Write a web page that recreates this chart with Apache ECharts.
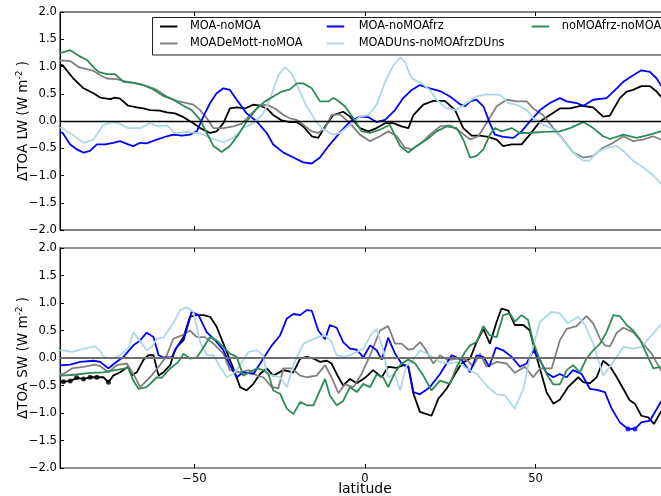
<!DOCTYPE html>
<html><head><meta charset="utf-8">
<script src="https://cdn.jsdelivr.net/npm/echarts@6/dist/echarts.min.js"></script>
<style>html,body{margin:0;padding:0;background:#fff;overflow:hidden}#c{width:661px;height:496px}</style>
</head><body><div id="c"></div>
<script>
// ---------- data (latitude, value) ----------
const names = ['MOA-noMOA','MOADeMott-noMOA','MOA-noMOAfrz','MOADUns-noMOAfrzDUns','noMOAfrz-noMOA'];
const colors = ['#000000','#808080','#0000ff','#add8e6','#2e8b57'];
const xTicks = [-50, 0, 50];
const yTicks = [-2, -1.5, -1, -0.5, 0, 0.5, 1, 1.5, 2];

const lwBlack = [[-89.4,1.04],[-88.6,1.02],[-85.5,0.78],[-82.5,0.60],[-79.6,0.51],[-77.6,0.43],[-74.7,0.40],[-73.3,0.43],[-71.8,0.41],[-69.4,0.28],[-66.9,0.25],[-65,0.23],[-63,0.20],[-60.1,0.19],[-58.1,0.16],[-55.7,0.14],[-53.2,0.07],[-50.3,-0.04],[-48.3,-0.13],[-45.4,-0.22],[-43.5,-0.19],[-41.5,-0.04],[-39.6,0.23],[-37.6,0.25],[-35.2,0.23],[-32.7,0.30],[-30.8,0.28],[-28.8,0.23],[-26.9,0.11],[-24.4,0.01],[-22,-0.02],[-20,-0.02],[-18.1,-0.10],[-15.6,-0.28],[-13.7,-0.31],[-11.7,-0.10],[-9.3,0.11],[-6.4,0.17],[-4.4,0.08],[-1.5,-0.13],[1.0,-0.19],[3.4,-0.13],[5.9,-0.04],[8.3,-0.04],[10.7,-0.10],[12.7,-0.13],[14.2,0.11],[17.1,0.30],[20,0.37],[23.4,0.37],[26.4,0.20],[28.8,-0.13],[31.3,-0.27],[33.7,-0.27],[36.1,-0.29],[38.6,-0.34],[40.5,-0.46],[43,-0.43],[45.9,-0.43],[48.3,-0.25],[51.3,-0.01],[54.2,0.11],[57.1,0.23],[60.1,0.23],[63.5,0.28],[66.9,0.25],[69.8,0.08],[71.8,0.10],[74.7,0.42],[76.7,0.54],[78.6,0.57],[81,0.64],[83.5,0.64],[85.5,0.54],[86.7,0.45],[89.4,0.35]];
const lwGray = [[-89.4,1.11],[-88.6,1.11],[-86.4,1.10],[-84,0.99],[-81.5,0.95],[-79.6,0.92],[-77.6,0.84],[-75.7,0.78],[-72.8,0.77],[-69.8,0.72],[-66.9,0.69],[-64,0.64],[-61,0.57],[-58.1,0.45],[-55.2,0.37],[-52.2,0.33],[-50.3,0.30],[-48.3,0.20],[-46.4,0.05],[-44.4,-0.13],[-41.5,-0.13],[-38.6,-0.10],[-36.1,-0.05],[-33.7,0.11],[-30.8,0.28],[-28.8,0.30],[-26.4,0.23],[-23.9,0.11],[-22,0.05],[-20,0.02],[-18.1,-0.07],[-15.6,-0.19],[-13.7,-0.22],[-11.7,-0.13],[-9.8,0.11],[-7.3,0.12],[-4.4,-0.04],[-1.5,-0.25],[1.5,-0.37],[4.4,-0.28],[6.8,-0.19],[9.3,-0.28],[11.7,-0.49],[13.7,-0.52],[16.6,-0.40],[19,-0.25],[22,-0.10],[24.9,-0.08],[27.8,-0.19],[30.8,-0.34],[33.2,-0.28],[35.6,-0.04],[38.6,0.27],[41.5,0.39],[44.4,0.36],[47.4,0.36],[49.3,0.23],[52.2,0.11],[55.2,-0.13],[58.1,-0.34],[61,-0.58],[64,-0.67],[66.9,-0.64],[69.8,-0.49],[72.8,-0.40],[75.7,-0.28],[78.6,-0.37],[81.5,-0.34],[84.5,-0.28],[86.7,-0.34],[89.4,-0.36]];
const lwBlue = [[-89.4,-0.20],[-88.6,-0.22],[-86.4,-0.43],[-84.5,-0.52],[-82.5,-0.58],[-80.6,-0.55],[-78.6,-0.43],[-76.2,-0.43],[-73.8,-0.40],[-71.8,-0.37],[-69.4,-0.43],[-67.9,-0.46],[-65.9,-0.40],[-64,-0.41],[-61,-0.34],[-58.1,-0.28],[-56.2,-0.25],[-53.7,-0.27],[-51.3,-0.25],[-49.3,-0.19],[-47.4,0.08],[-45.4,0.33],[-43.5,0.51],[-41.5,0.60],[-39.6,0.57],[-37.6,0.39],[-34.7,0.14],[-31.7,-0.01],[-28.8,-0.22],[-26.9,-0.43],[-23.9,-0.58],[-21,-0.67],[-18.1,-0.76],[-15.6,-0.78],[-13.2,-0.67],[-10.7,-0.46],[-7.3,-0.21],[-4.4,-0.01],[-1.5,0.08],[1.0,0.07],[3.4,-0.02],[5.9,0.02],[8.8,0.20],[11.2,0.42],[13.7,0.57],[16.1,0.66],[19,0.60],[22,0.55],[24.9,0.45],[27.8,0.31],[29.3,0.27],[30.8,0.36],[32.7,0.39],[34.7,0.27],[36.6,-0.04],[38.1,-0.25],[40.5,-0.29],[43.5,-0.31],[45.9,-0.19],[48.3,-0.01],[51.3,0.20],[54.2,0.33],[57.1,0.42],[59.1,0.36],[62,0.33],[64,0.28],[66.9,0.39],[70.8,0.42],[73.8,0.60],[75.7,0.72],[78.6,0.84],[81,0.93],[83.5,0.90],[85.5,0.78],[86.7,0.66],[89.4,0.50]];
const lwLight = [[-89.4,-0.12],[-88.6,-0.13],[-85.9,-0.25],[-82.5,-0.40],[-79.6,-0.34],[-76.7,-0.07],[-74.2,-0.02],[-72.3,-0.04],[-69.4,-0.13],[-65.9,-0.13],[-63,-0.04],[-60.5,-0.10],[-58.1,-0.08],[-55.7,-0.22],[-52.2,-0.20],[-48.3,-0.23],[-45.4,-0.31],[-41.5,-0.39],[-38.6,-0.31],[-35.7,-0.13],[-32.7,-0.04],[-29.8,0.14],[-27.8,0.42],[-25.4,0.84],[-23.4,0.99],[-21.5,0.87],[-19.5,0.60],[-17.1,0.27],[-14.6,0.02],[-12.2,-0.16],[-9.3,-0.25],[-7.3,-0.22],[-4.4,-0.07],[-1.5,0.08],[1.0,0.11],[3.4,0.30],[5.9,0.72],[8.3,1.02],[10.3,1.17],[11.7,1.08],[13.7,0.78],[16.6,0.69],[19,0.57],[21,0.39],[23.9,0.23],[26.9,0.20],[29.8,0.33],[32.7,0.45],[35.6,0.49],[39.6,0.48],[42,0.33],[44.4,0.30],[47.4,0.20],[49.3,0.05],[52.2,-0.07],[54.7,-0.13],[58.1,-0.34],[61,-0.58],[64,-0.73],[65.9,-0.72],[67.9,-0.58],[70.8,-0.49],[73.8,-0.46],[75.7,-0.55],[78.6,-0.73],[81.5,-0.85],[84.5,-1.00],[86.7,-1.15],[89.4,-1.25]];
const lwGreen = [[-89.4,1.25],[-88.6,1.26],[-86.4,1.30],[-84,1.20],[-81.5,1.12],[-79.6,0.99],[-78.1,0.90],[-75.7,0.86],[-73.3,0.86],[-70.8,0.72],[-67.9,0.70],[-65,0.66],[-62,0.58],[-59.1,0.46],[-56.2,0.39],[-53.2,0.28],[-50.8,0.20],[-48.3,0.02],[-46.4,-0.22],[-44.4,-0.46],[-42,-0.57],[-39.6,-0.46],[-37.1,-0.25],[-34.7,-0.01],[-31.7,0.23],[-29.3,0.36],[-26.9,0.45],[-24.4,0.54],[-22,0.58],[-20,0.69],[-18.1,0.69],[-15.6,0.60],[-13.2,0.36],[-10.7,0.36],[-9.3,0.42],[-8.3,0.39],[-5.9,0.27],[-3.4,0.05],[-1.0,-0.19],[1.5,-0.22],[4.4,-0.16],[7.3,-0.07],[10.3,-0.46],[12.7,-0.58],[15.1,-0.46],[18.1,-0.34],[21,-0.19],[23.9,-0.10],[26.9,-0.13],[28.8,-0.34],[30.8,-0.67],[32.7,-0.64],[34.7,-0.52],[36.6,-0.25],[38.1,-0.13],[40,-0.19],[43,-0.13],[45.4,-0.22],[48.3,-0.22],[52.2,-0.20],[57.1,-0.19],[60.1,-0.13],[64,-0.02],[66.9,-0.13],[69.8,-0.28],[71.8,-0.33],[75.7,-0.25],[79.6,-0.31],[83.5,-0.25],[86.7,-0.19],[89.4,-0.18]];

const swBlack = [[-89.4,-0.43],[-88.4,-0.43],[-86.4,-0.42],[-84.5,-0.36],[-82.5,-0.38],[-80.6,-0.35],[-78.6,-0.35],[-76.7,-0.35],[-75.2,-0.44],[-73.8,-0.32],[-71.8,-0.26],[-69.4,-0.16],[-68.4,-0.32],[-66.9,-0.26],[-65,-0.04],[-63.5,0.05],[-62,0.05],[-60.5,-0.32],[-59.1,-0.26],[-57.1,-0.13],[-55.7,0.14],[-53.2,0.38],[-51.3,0.75],[-49.3,0.78],[-47.4,0.78],[-45.4,0.75],[-43.5,0.57],[-41.5,0.26],[-38.6,-0.19],[-36.6,-0.53],[-34.7,-0.59],[-32.7,-0.47],[-30.8,-0.29],[-28.8,-0.19],[-26.9,-0.32],[-23.9,-0.22],[-21,-0.26],[-19,-0.01],[-17.1,0.02],[-15.1,-0.01],[-13.2,-0.07],[-11.2,-0.05],[-9.8,-0.10],[-8.3,-0.29],[-6.4,-0.50],[-4.4,-0.38],[-2.4,-0.46],[0,-0.36],[2.4,-0.22],[4.9,-0.35],[6.8,-0.16],[9.3,-0.18],[11.2,-0.13],[12.7,-0.16],[14.2,-0.65],[16.1,-0.98],[19.5,-1.05],[21.5,-0.74],[23.9,-0.56],[26.4,-0.29],[28.3,-0.10],[30.8,-0.01],[32.7,0.29],[34.7,0.53],[36.6,0.26],[38.6,0.66],[40,0.90],[42,0.86],[43.9,0.60],[46.4,0.60],[48.3,0.50],[50.3,0.02],[53.2,-0.62],[55.2,-0.83],[57.1,-0.76],[59.5,-0.53],[62.5,-0.35],[64,-0.44],[65.9,-0.46],[67.9,-0.35],[69.8,-0.05],[71.8,-0.15],[73.8,-0.35],[75.7,-0.56],[77.6,-0.77],[79.1,-0.83],[81,-1.05],[83,-1.08],[84.7,-1.20],[86.7,-0.98],[89.4,-0.85]];
const swGray = [[-89.4,-0.30],[-88.4,-0.29],[-85.9,-0.19],[-82.5,-0.16],[-79.1,-0.12],[-77.6,-0.15],[-75.2,-0.26],[-72.8,-0.13],[-69.8,-0.10],[-67.9,-0.29],[-65.9,-0.53],[-63,-0.35],[-60.1,-0.13],[-58.1,0.05],[-56.2,0.35],[-53.7,0.41],[-51.3,0.50],[-49.3,0.38],[-46.9,0.38],[-44.4,0.26],[-41.5,0.08],[-39.6,-0.22],[-36.6,-0.26],[-34.2,-0.22],[-31.7,-0.32],[-29.8,-0.35],[-27.3,-0.53],[-25.4,-0.55],[-23.9,-0.19],[-21.5,-0.19],[-19,-0.32],[-17.1,-0.35],[-14.2,-0.32],[-11.7,-0.13],[-9.8,-0.35],[-7.8,-0.64],[-5.9,-0.48],[-3.4,-0.53],[-1.0,-0.29],[1.5,0.05],[4.4,0.50],[6.8,0.58],[8.8,0.26],[10.7,0.26],[12.7,0.15],[14.2,0.17],[16.1,0.29],[17.6,0.17],[20,-0.10],[22,0.05],[24.4,-0.04],[26.9,-0.01],[29.8,-0.03],[31.7,-0.15],[33.7,0.08],[35.6,-0.16],[38.6,-0.07],[41.5,-0.10],[43.9,-0.27],[46.9,-0.16],[49.3,-0.35],[51.3,-0.19],[54.7,-0.19],[57.1,0.32],[59.1,0.53],[62,0.58],[64.9,0.76],[66.9,0.63],[68.9,0.35],[70.3,0.23],[71.8,0.21],[73.8,0.46],[75.7,0.55],[78.6,0.47],[81.5,0.26],[84,0.08],[86.7,-0.22],[89.4,-0.30]];
const swBlue = [[-89.4,-0.13],[-88.4,-0.13],[-86.4,-0.12],[-83.5,-0.07],[-79.6,-0.05],[-77.6,-0.07],[-75.2,-0.19],[-73.3,-0.09],[-70.8,0.02],[-67.9,0.23],[-65.9,0.32],[-64,0.46],[-62,0.38],[-60.5,0.05],[-59.1,0.01],[-56.6,0.01],[-55.2,0.20],[-53.2,0.32],[-50.8,0.84],[-48.8,0.78],[-46.4,0.47],[-43.9,0.32],[-41.5,0.14],[-39.6,-0.13],[-37.6,-0.35],[-35.7,-0.26],[-32.7,-0.29],[-29.8,-0.01],[-27.3,0.23],[-24.9,0.41],[-22.9,0.72],[-21,0.80],[-19,0.78],[-17.1,0.87],[-15.6,0.86],[-13.7,0.50],[-11.7,0.34],[-10.3,0.60],[-8.3,0.55],[-6.4,0.29],[-4.4,0.17],[-2.4,0.15],[-0.5,0.01],[1.5,0.23],[3.4,0.14],[4.9,-0.03],[6.8,0.37],[8.8,0.08],[10.7,-0.10],[12.7,-0.15],[14.2,-0.62],[16.1,-0.66],[19,-0.53],[22,-0.29],[25.4,0.05],[28.3,-0.03],[30.8,-0.26],[32.7,0.05],[34.7,0.02],[36.4,-0.16],[38.4,0.19],[40.5,0.14],[43,0.02],[45.4,-0.16],[47.4,-0.10],[49.3,0.14],[51.3,-0.04],[53.2,-0.27],[55.2,-0.35],[57.1,-0.29],[59.1,-0.35],[61,-0.22],[63.5,-0.29],[65.9,-0.56],[67.9,-0.58],[70.3,-0.62],[72.3,-0.92],[74.7,-1.17],[77.1,-1.29],[79.1,-1.29],[81,-1.17],[83.5,-1.14],[86.7,-0.80],[89.4,-0.65]];
const swLight = [[-89.4,0.14],[-88.4,0.14],[-85.9,0.11],[-82.5,0.17],[-79.1,0.21],[-77.6,0.13],[-76.7,0.02],[-74.2,-0.01],[-71.8,0.05],[-69.4,0.17],[-67.9,0.47],[-66.4,0.35],[-64,0.14],[-62.5,0.20],[-61,0.35],[-59.1,0.37],[-56.2,0.63],[-54.2,0.87],[-52.2,0.92],[-50.3,0.84],[-48.3,0.29],[-46.4,0.05],[-44.4,0.05],[-42.5,-0.16],[-40.5,-0.35],[-38.6,-0.29],[-36.6,-0.13],[-34.2,0.11],[-31.7,0.14],[-29.8,0.05],[-28.8,-0.29],[-26.9,-0.32],[-24.9,-0.35],[-22.9,-0.53],[-21,-0.13],[-18.1,0.26],[-16.1,0.32],[-13.7,0.38],[-11.7,0.41],[-9.8,0.29],[-8.3,0.05],[-5.9,0.02],[-3.4,0.08],[-0.5,0.17],[2.0,0.44],[3.4,0.53],[5.4,0.14],[6.8,-0.35],[8.8,-0.29],[10.3,-0.59],[12.2,-0.13],[14.2,-0.04],[16.1,0.14],[19,0.05],[22,-0.07],[24.4,-0.10],[26.9,-0.07],[29.8,-0.19],[32.7,-0.29],[36.1,-0.53],[38.6,-0.66],[41,-0.68],[43.9,-0.92],[46.4,-0.56],[48.3,-0.01],[51.3,0.66],[54.7,0.84],[57.1,0.81],[59.5,0.63],[62.5,0.75],[64.5,0.60],[66.9,0.26],[69.8,-0.32],[72.8,-0.07],[75.7,0.20],[78.6,0.17],[81,0.20],[83.5,0.38],[86.7,0.60],[89.4,0.70]];
const swGreen = [[-89.4,-0.32],[-88.4,-0.32],[-84.5,-0.30],[-80.6,-0.27],[-76.7,-0.26],[-73.3,-0.22],[-69.4,-0.18],[-67.9,-0.41],[-66.4,-0.56],[-64,-0.53],[-61,-0.35],[-59.6,-0.36],[-57.1,-0.19],[-54.7,-0.07],[-53.2,0.08],[-51.3,-0.01],[-49.3,0.01],[-47.9,0.14],[-45.4,0.38],[-43.5,0.32],[-41.5,0.20],[-39.6,0.08],[-37.6,0.02],[-35.7,-0.32],[-34.2,-0.27],[-31.7,-0.19],[-29.8,-0.22],[-28.3,-0.29],[-26.9,-0.59],[-24.9,-0.65],[-22.9,-0.92],[-21,-1.02],[-19,-0.80],[-17.1,-0.86],[-15.1,-0.86],[-13.2,-0.59],[-11.7,-0.38],[-10.3,-0.68],[-8.3,-0.86],[-6.4,-0.78],[-4.4,-0.53],[-2.4,-0.62],[-0.5,-0.47],[1.5,-0.53],[3.4,-0.30],[5.4,-0.36],[6.8,-0.53],[8.8,-0.26],[10.7,-0.10],[12.7,-0.03],[14.7,-0.10],[17.1,-0.32],[19.5,-0.59],[22,-0.41],[24.9,-0.47],[26.9,-0.16],[29.3,0.11],[30.8,0.23],[32.7,0.29],[34.7,0.58],[36.6,0.41],[38.6,0.38],[40.5,0.78],[42.5,0.81],[43.9,0.66],[45.9,0.78],[47.8,0.69],[49.3,0.29],[51.3,-0.04],[53.2,-0.29],[55.2,-0.48],[57.1,-0.48],[59.1,-0.22],[61,-0.13],[63,-0.26],[64.9,-0.01],[66.9,0.14],[68.9,0.26],[70.8,0.47],[72.8,0.78],[74.7,0.76],[76.7,0.60],[78.6,0.50],[80.5,0.35],[82.5,0.08],[84.5,-0.19],[86.7,-0.16],[89.4,-0.10]];

// latitudes where the reference shows dot markers on the SW curves
const swBlackDotLats = [-88.4,-86.4,-84.5,-82.5,-80.6,-78.6,-75.2];
const swBlueDotLats = [77.1,79.1];

// ---------- build ----------
const lwData = [lwBlack, lwGray, lwBlue, lwLight, lwGreen];
const swData = [swBlack, swGray, swBlue, swLight, swGreen];
const fmt = v => (Math.abs(v) < 1e-9 ? '0.0' : v.toFixed(1)).replace('-', '\u2212');
const fmtX = v => String(v).replace('-', '\u2212');
const font = 'DejaVu Sans';
const XMIN = -89.4, XMAX = 89.4;

function xAx(grid, pos, labels, name) {
  const a = {
    type: 'value', gridIndex: grid, position: pos, min: XMIN, max: XMAX,
    axisLine: { show: false, onZero: false },
    axisTick: { show: true, inside: true, length: 4, customValues: xTicks, lineStyle: { color: '#000', width: 1 } },
    axisLabel: { show: labels, customValues: xTicks, formatter: fmtX, color: '#000', fontFamily: font, fontSize: 11.6, margin: 5 },
    splitLine: { show: false }
  };
  if (name) {
    a.name = name; a.nameLocation = 'middle'; a.nameGap = 14; a.nameMoveOverlap = false;
    a.nameTextStyle = { color: '#000', fontFamily: font, fontSize: 14, verticalAlign: 'top' };
  }
  return a;
}
function yAx(grid, title) {
  return {
    type: 'value', gridIndex: grid, position: 'left', min: -2, max: 2, interval: 0.5,
    axisLine: { show: true, onZero: false, lineStyle: { color: '#000', width: 1 } },
    axisTick: { show: true, inside: true, length: 4, lineStyle: { color: '#000' } },
    axisLabel: { formatter: fmt, color: '#000', fontFamily: font, fontSize: 11.6, margin: 3 },
    splitLine: { show: false },
    name: '{a|\u0394TOA ' + title + ' (W m}{s|-2}{a| )}', nameLocation: 'middle', nameGap: 28, nameMoveOverlap: false,
    nameTextStyle: {
      color: '#000', fontFamily: font,
      rich: { a: { fontSize: 13.5, fontFamily: font, color: '#000' },
              s: { fontSize: 9, fontFamily: font, color: '#000', padding: [0, 0, 8, 0] } }
    }
  };
}

const series = [];
names.forEach((n, i) => {
  series.push({
    name: n, type: 'line', xAxisIndex: 0, yAxisIndex: 0, data: lwData[i],
    symbol: 'none', lineStyle: { color: colors[i], width: 1.8 }, itemStyle: { color: colors[i] },
    z: 2, silent: true, animation: false,
    markLine: i === 0 ? { silent: true, symbol: ['none', 'none'], label: { show: false },
      lineStyle: { color: '#000', width: 1.3, type: 'solid' }, data: [{ yAxis: 0 }], animation: false } : undefined
  });
});
names.forEach((n, i) => {
  series.push({
    name: n, type: 'line', xAxisIndex: 2, yAxisIndex: 1, data: swData[i],
    symbol: 'none', lineStyle: { color: colors[i], width: 1.8 }, itemStyle: { color: colors[i] },
    z: 2, silent: true, animation: false,
    markLine: i === 0 ? { silent: true, symbol: ['none', 'none'], label: { show: false },
      lineStyle: { color: '#6e6e6e', width: 1.8, type: 'solid' }, data: [{ yAxis: 0 }], animation: false } : undefined
  });
});
function dotsFrom(arr, lats) {
  return lats.map(l => arr.find(p => Math.abs(p[0] - l) < 0.05)).filter(Boolean);
}
series.push({ name: 'dotsBlack', type: 'scatter', xAxisIndex: 2, yAxisIndex: 1,
  data: dotsFrom(swBlack, swBlackDotLats), symbolSize: 5, itemStyle: { color: '#000' }, z: 3, silent: true, animation: false });
series.push({ name: 'dotsBlue', type: 'scatter', xAxisIndex: 2, yAxisIndex: 1,
  data: dotsFrom(swBlue, swBlueDotLats), symbolSize: 5, itemStyle: { color: '#0000ff' }, z: 3, silent: true, animation: false });

function legend(left, data, pad) {
  return {
    orient: 'vertical', left: left, top: 19.5, padding: 0, itemWidth: 17.5, itemHeight: 2, itemGap: 3,
    icon: 'rect', data: data, selectedMode: false, z: 5,
    textStyle: { color: '#000', fontFamily: font, fontSize: 11.4, padding: [0, 0, 0, pad], lineHeight: 14 }
  };
}

const chart = echarts.init(document.getElementById('c'), null, { renderer: 'canvas' });
chart.setOption({
  backgroundColor: '#fff',
  animation: false,
  grid: [
    { left: 60, top: 12, width: 610, height: 218, show: true, borderColor: '#000', borderWidth: 1, backgroundColor: 'transparent', outerBoundsMode: 'none', containLabel: false },
    { left: 60, top: 248, width: 610, height: 220, show: true, borderColor: '#6e6e6e', borderWidth: 1.5, backgroundColor: 'transparent', outerBoundsMode: 'none', containLabel: false }
  ],
  xAxis: [xAx(0, 'bottom', false), xAx(0, 'top', false), xAx(1, 'bottom', true, 'latitude'), xAx(1, 'top', false)],
  yAxis: [yAx(0, 'LW'), yAx(1, 'SW')],
  legend: [
    legend(160, [names[0], names[1]], 7.5),
    legend(326.7, [names[2], names[3]], 9.5),
    legend(531.7, [names[4]], 7.5)
  ],
  graphic: [{ type: 'rect', shape: { x: 152.5, y: 17.5, width: 540, height: 37.5 },
    style: { fill: '#fff', stroke: '#222', lineWidth: 1 }, z: 4, silent: true }],
  series: series
});
</script></body></html>
